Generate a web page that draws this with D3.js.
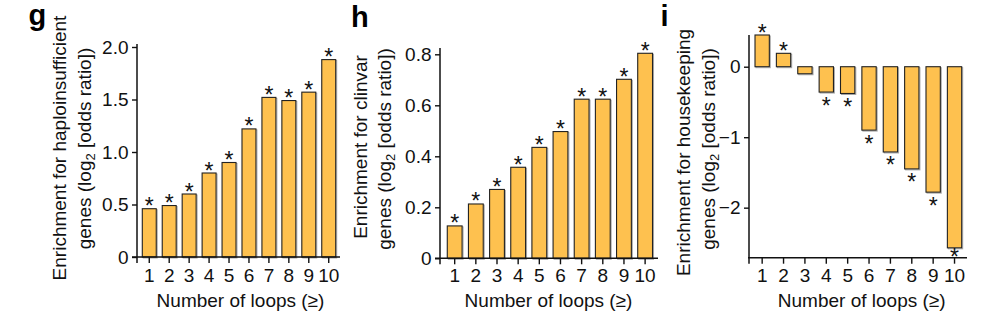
<!DOCTYPE html>
<html>
<head>
<meta charset="utf-8">
<script src="https://cdn.jsdelivr.net/npm/d3@7"></script>
<style>
  html, body { margin: 0; padding: 0; background: #fff; }
  svg { display: block; font-family: "Liberation Sans", Arial, Helvetica, sans-serif; }
</style>
</head>
<body>
<svg id="chart" width="1000" height="336"></svg>
<script>
// ---------------- DATA ----------------
const loops = ["1", "2", "3", "4", "5", "6", "7", "8", "9", "10"];

const haploValues = [0.46, 0.49, 0.60, 0.80, 0.90, 1.22, 1.52, 1.49, 1.57, 1.88];
const haploSignificant = [true, true, true, true, true, true, true, true, true, true];
const haploTicks = [0, 0.5, 1.0, 1.5, 2.0];
const haploTickLabels = ["0", "0.5", "1.0", "1.5", "2.0"];

const clinvarValues = [0.127, 0.213, 0.270, 0.357, 0.435, 0.497, 0.624, 0.624, 0.702, 0.804];
const clinvarSignificant = [true, true, true, true, true, true, true, true, true, true];
const clinvarTicks = [0, 0.2, 0.4, 0.6, 0.8];
const clinvarTickLabels = ["0", "0.2", "0.4", "0.6", "0.8"];

const housekeepingValues = [0.45, 0.19, -0.10, -0.36, -0.38, -0.90, -1.21, -1.45, -1.78, -2.57];
const housekeepingSignificant = [true, true, false, true, true, true, true, true, true, true];
const housekeepingTicks = [-2, -1, 0];
const housekeepingTickLabels = ["\u22122", "\u22121", "0"];

const xTitle = "Number of loops (\u2265)";

// ---------------- DRAW ----------------
const svg = d3.select("#chart");
const BAR_FILL = "#FEC14F";
const INK = "#111";

function panel(cfg) {
  const g = svg.append("g");
  const x = d3.scaleBand().domain(loops).range(cfg.xRange)
    .paddingInner(cfg.pi).paddingOuter(0.15);
  const y = d3.scaleLinear().domain(cfg.yDomain).range(cfg.yRange);
  const axisY = cfg.xAxisY != null ? cfg.xAxisY : y(0);
  const data = loops.map((k, i) => ({ k, v: cfg.values[i], s: cfg.sig[i] }));

  // bars (with faint shadow)
  g.selectAll("rect.shadow").data(data).enter().append("rect")
    .attr("x", d => x(d.k) + 1)
    .attr("y", d => Math.min(y(d.v), y(0)) + 1)
    .attr("width", x.bandwidth())
    .attr("height", d => Math.abs(y(d.v) - y(0)))
    .attr("fill", "none").attr("stroke", "#aaa").attr("stroke-width", 1);
  g.selectAll("rect.bar").data(data).enter().append("rect")
    .attr("class", "bar")
    .attr("x", d => x(d.k))
    .attr("y", d => Math.min(y(d.v), y(0)))
    .attr("width", x.bandwidth())
    .attr("height", d => Math.abs(y(d.v) - y(0)))
    .attr("fill", BAR_FILL).attr("stroke", "#222").attr("stroke-width", 1.1);

  // asterisks
  g.selectAll("text.star").data(data.filter(d => d.s)).enter().append("text")
    .attr("x", d => x(d.k) + x.bandwidth() / 2)
    .attr("y", d => d.v >= 0 ? y(d.v) + 5.5 : Math.min(y(d.v) + 21.5, axisY + 7))
    .attr("text-anchor", "middle")
    .attr("font-size", 23).attr("fill", INK)
    .text("*");

  // y axis
  const yAxis = d3.axisLeft(y).tickValues(cfg.ticks)
    .tickFormat((d, i) => cfg.tickLabels[i]).tickSize(5).tickPadding(3.5);
  const ya = g.append("g").attr("transform", `translate(${cfg.axisX},0)`).call(yAxis);
  ya.select(".domain").remove();
  ya.selectAll(".tick line").attr("stroke", INK).attr("stroke-width", 1.4);
  ya.selectAll(".tick text").attr("font-size", 19).attr("fill", INK)
    .attr("font-family", "'Liberation Sans', Arial, sans-serif");
  g.append("line")
    .attr("x1", cfg.axisX).attr("x2", cfg.axisX)
    .attr("y1", cfg.yAxisTop).attr("y2", axisY + 6)
    .attr("stroke", INK).attr("stroke-width", 1.5);

  // x axis
  const xAxis = d3.axisBottom(x).tickSize(6).tickPadding(5);
  const xa = g.append("g").attr("transform", `translate(0,${axisY})`).call(xAxis);
  xa.select(".domain").remove();
  xa.selectAll(".tick line").attr("stroke", INK).attr("stroke-width", 1.4);
  xa.selectAll(".tick text").attr("font-size", 19).attr("fill", INK)
    .attr("font-family", "'Liberation Sans', Arial, sans-serif")
    .attr("y", null).attr("dy", null)
    .attr("transform", `translate(0,${282 - axisY})`);
  g.append("line")
    .attr("x1", cfg.xAxisLeft).attr("x2", cfg.xAxisRight)
    .attr("y1", axisY).attr("y2", axisY)
    .attr("stroke", INK).attr("stroke-width", 1.5);

  // x title
  g.append("text").attr("x", cfg.xTitleX).attr("y", 307)
    .attr("text-anchor", "middle").attr("font-size", 19).attr("fill", INK)
    .text(xTitle);

  // y title (two rotated lines)
  g.append("text")
    .attr("transform", `translate(${cfg.yT1x},${cfg.yT1c}) rotate(-90)`)
    .attr("text-anchor", "middle").attr("font-size", 19).attr("fill", INK)
    .text(cfg.yTitle1);
  const t2 = g.append("text")
    .attr("transform", `translate(${cfg.yT2x},${cfg.yT2c}) rotate(-90)`)
    .attr("text-anchor", "middle").attr("font-size", 19).attr("fill", INK);
  t2.append("tspan").text("genes (log");
  t2.append("tspan").attr("dy", 4).attr("font-size", 13).text("2");
  t2.append("tspan").attr("dy", -4).text(" [odds ratio])");

  // panel letter
  g.append("text").attr("x", cfg.letterX).attr("y", cfg.letterY)
    .attr("font-size", 29).attr("font-weight", "bold").attr("fill", "#000")
    .text(cfg.letter);
}

panel({
  letter: "g", letterX: 28.5, letterY: 24.5,
  values: haploValues, sig: haploSignificant,
  ticks: haploTicks, tickLabels: haploTickLabels,
  xRange: [139.3, 338.7], pi: 0.3,
  yDomain: [0, 2], yRange: [257, 47], yAxisTop: 44,
  axisX: 137, xAxisLeft: 132, xAxisRight: 340,
  xTitleX: 240.5,
  yTitle1: "Enrichment for haploinsufficient",
  yT1x: 66, yT1c: 148, yT2x: 91, yT2c: 148.5
});

panel({
  letter: "h", letterX: 351, letterY: 27,
  values: clinvarValues, sig: clinvarSignificant,
  ticks: clinvarTicks, tickLabels: clinvarTickLabels,
  xRange: [444.1, 655.7], pi: 0.3,
  yDomain: [0, 0.8], yRange: [258.3, 54.3], yAxisTop: 48,
  axisX: 440, xAxisLeft: 435, xAxisRight: 658,
  xTitleX: 548.5,
  yTitle1: "Enrichment for clinvar",
  yT1x: 367, yT1c: 147, yT2x: 391, yT2c: 149
});

panel({
  letter: "i", letterX: 660.5, letterY: 25.5,
  values: housekeepingValues, sig: housekeepingSignificant,
  ticks: housekeepingTicks, tickLabels: housekeepingTickLabels,
  xRange: [751.8, 964.9], pi: 0.33,
  yDomain: [-2.71, 0.45], yRange: [257.7, 35], yAxisTop: 35,
  axisX: 749, xAxisY: 257.7, xAxisLeft: 748, xAxisRight: 967,
  xTitleX: 861.7,
  yTitle1: "Enrichment for housekeeping",
  yT1x: 690, yT1c: 152.5, yT2x: 715, yT2c: 149
});
</script>
</body>
</html>
